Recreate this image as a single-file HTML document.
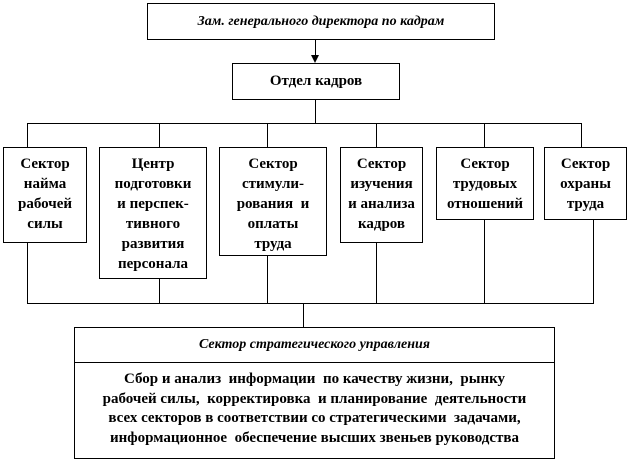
<!DOCTYPE html>
<html><head><meta charset="utf-8"><style>
body{margin:0;background:#fff;width:630px;height:462px;position:relative;overflow:hidden;font-family:"Liberation Serif",serif;font-weight:bold;color:#000}
.b{position:absolute;border:1px solid #000;box-sizing:border-box;background:#fff;text-align:center;font-size:15px;line-height:20px}
.l{position:absolute;background:#000}
.h{height:1px}.v{width:1px}
</style></head><body>
<div class="b" style="left:147px;top:3px;width:348px;height:37px;line-height:35px;font-style:italic;font-size:14px">Зам. генерального директора по кадрам</div>
<div class="l v" style="left:315px;top:40px;height:17px"></div>
<div style="position:absolute;left:311px;top:55px;width:0;height:0;border-left:4px solid transparent;border-right:4px solid transparent;border-top:8px solid #000"></div>
<div class="b" style="left:232px;top:63px;width:168px;height:37px;line-height:35px">Отдел кадров</div>
<div class="l v" style="left:315px;top:100px;height:23px"></div>
<div class="l h" style="left:27px;top:123px;width:555px"></div>
<div class="l v" style="left:27px;top:123px;height:24px"></div>
<div class="l v" style="left:159px;top:123px;height:24px"></div>
<div class="l v" style="left:267px;top:123px;height:24px"></div>
<div class="l v" style="left:376px;top:123px;height:24px"></div>
<div class="l v" style="left:484px;top:123px;height:24px"></div>
<div class="l v" style="left:581px;top:123px;height:24px"></div>

<div class="b" style="left:3px;top:147px;width:84px;height:96px;padding-top:6px">Сектор<br>найма<br>рабочей<br>силы</div>
<div class="b" style="left:99px;top:147px;width:108px;height:132px;padding-top:6px">Центр<br>подготовки<br>и перспек-<br>тивного<br>развития<br>персонала</div>
<div class="b" style="left:219px;top:147px;width:108px;height:109px;padding-top:6px">Сектор<br>стимули-<br>рования &nbsp;и<br>оплаты<br>труда</div>
<div class="b" style="left:340px;top:147px;width:83px;height:96px;padding-top:6px">Сектор<br>изучения<br>и анализа<br>кадров</div>
<div class="b" style="left:436px;top:147px;width:98px;height:73px;padding-top:6px">Сектор<br>трудовых<br>отношений</div>
<div class="b" style="left:544px;top:147px;width:83px;height:73px;padding-top:6px">Сектор<br>охраны<br>труда</div>

<div class="l v" style="left:27px;top:243px;height:60px"></div>
<div class="l v" style="left:159px;top:279px;height:24px"></div>
<div class="l v" style="left:267px;top:256px;height:47px"></div>
<div class="l v" style="left:376px;top:243px;height:60px"></div>
<div class="l v" style="left:484px;top:220px;height:83px"></div>
<div class="l v" style="left:593px;top:220px;height:83px"></div>
<div class="l h" style="left:27px;top:303px;width:567px"></div>
<div class="l v" style="left:303px;top:303px;height:25px"></div>

<div class="b" style="left:74px;top:327px;width:481px;height:132px"></div>
<div class="l h" style="left:74px;top:362px;width:481px"></div>
<div style="position:absolute;left:74px;top:327px;width:481px;height:35px;line-height:35px;text-align:center;font-style:italic;font-size:14px">Сектор стратегического управления</div>
<div style="position:absolute;left:74px;top:370px;width:481px;text-align:center;font-size:15px;line-height:19.5px">Сбор и анализ &nbsp;информации &nbsp;по качеству жизни, &nbsp;рынку<br>рабочей силы, &nbsp;корректировка &nbsp;и планирование &nbsp;деятельности<br>всех секторов в соответствии со стратегическими &nbsp;задачами,<br>информационное &nbsp;обеспечение высших звеньев руководства</div>
</body></html>
